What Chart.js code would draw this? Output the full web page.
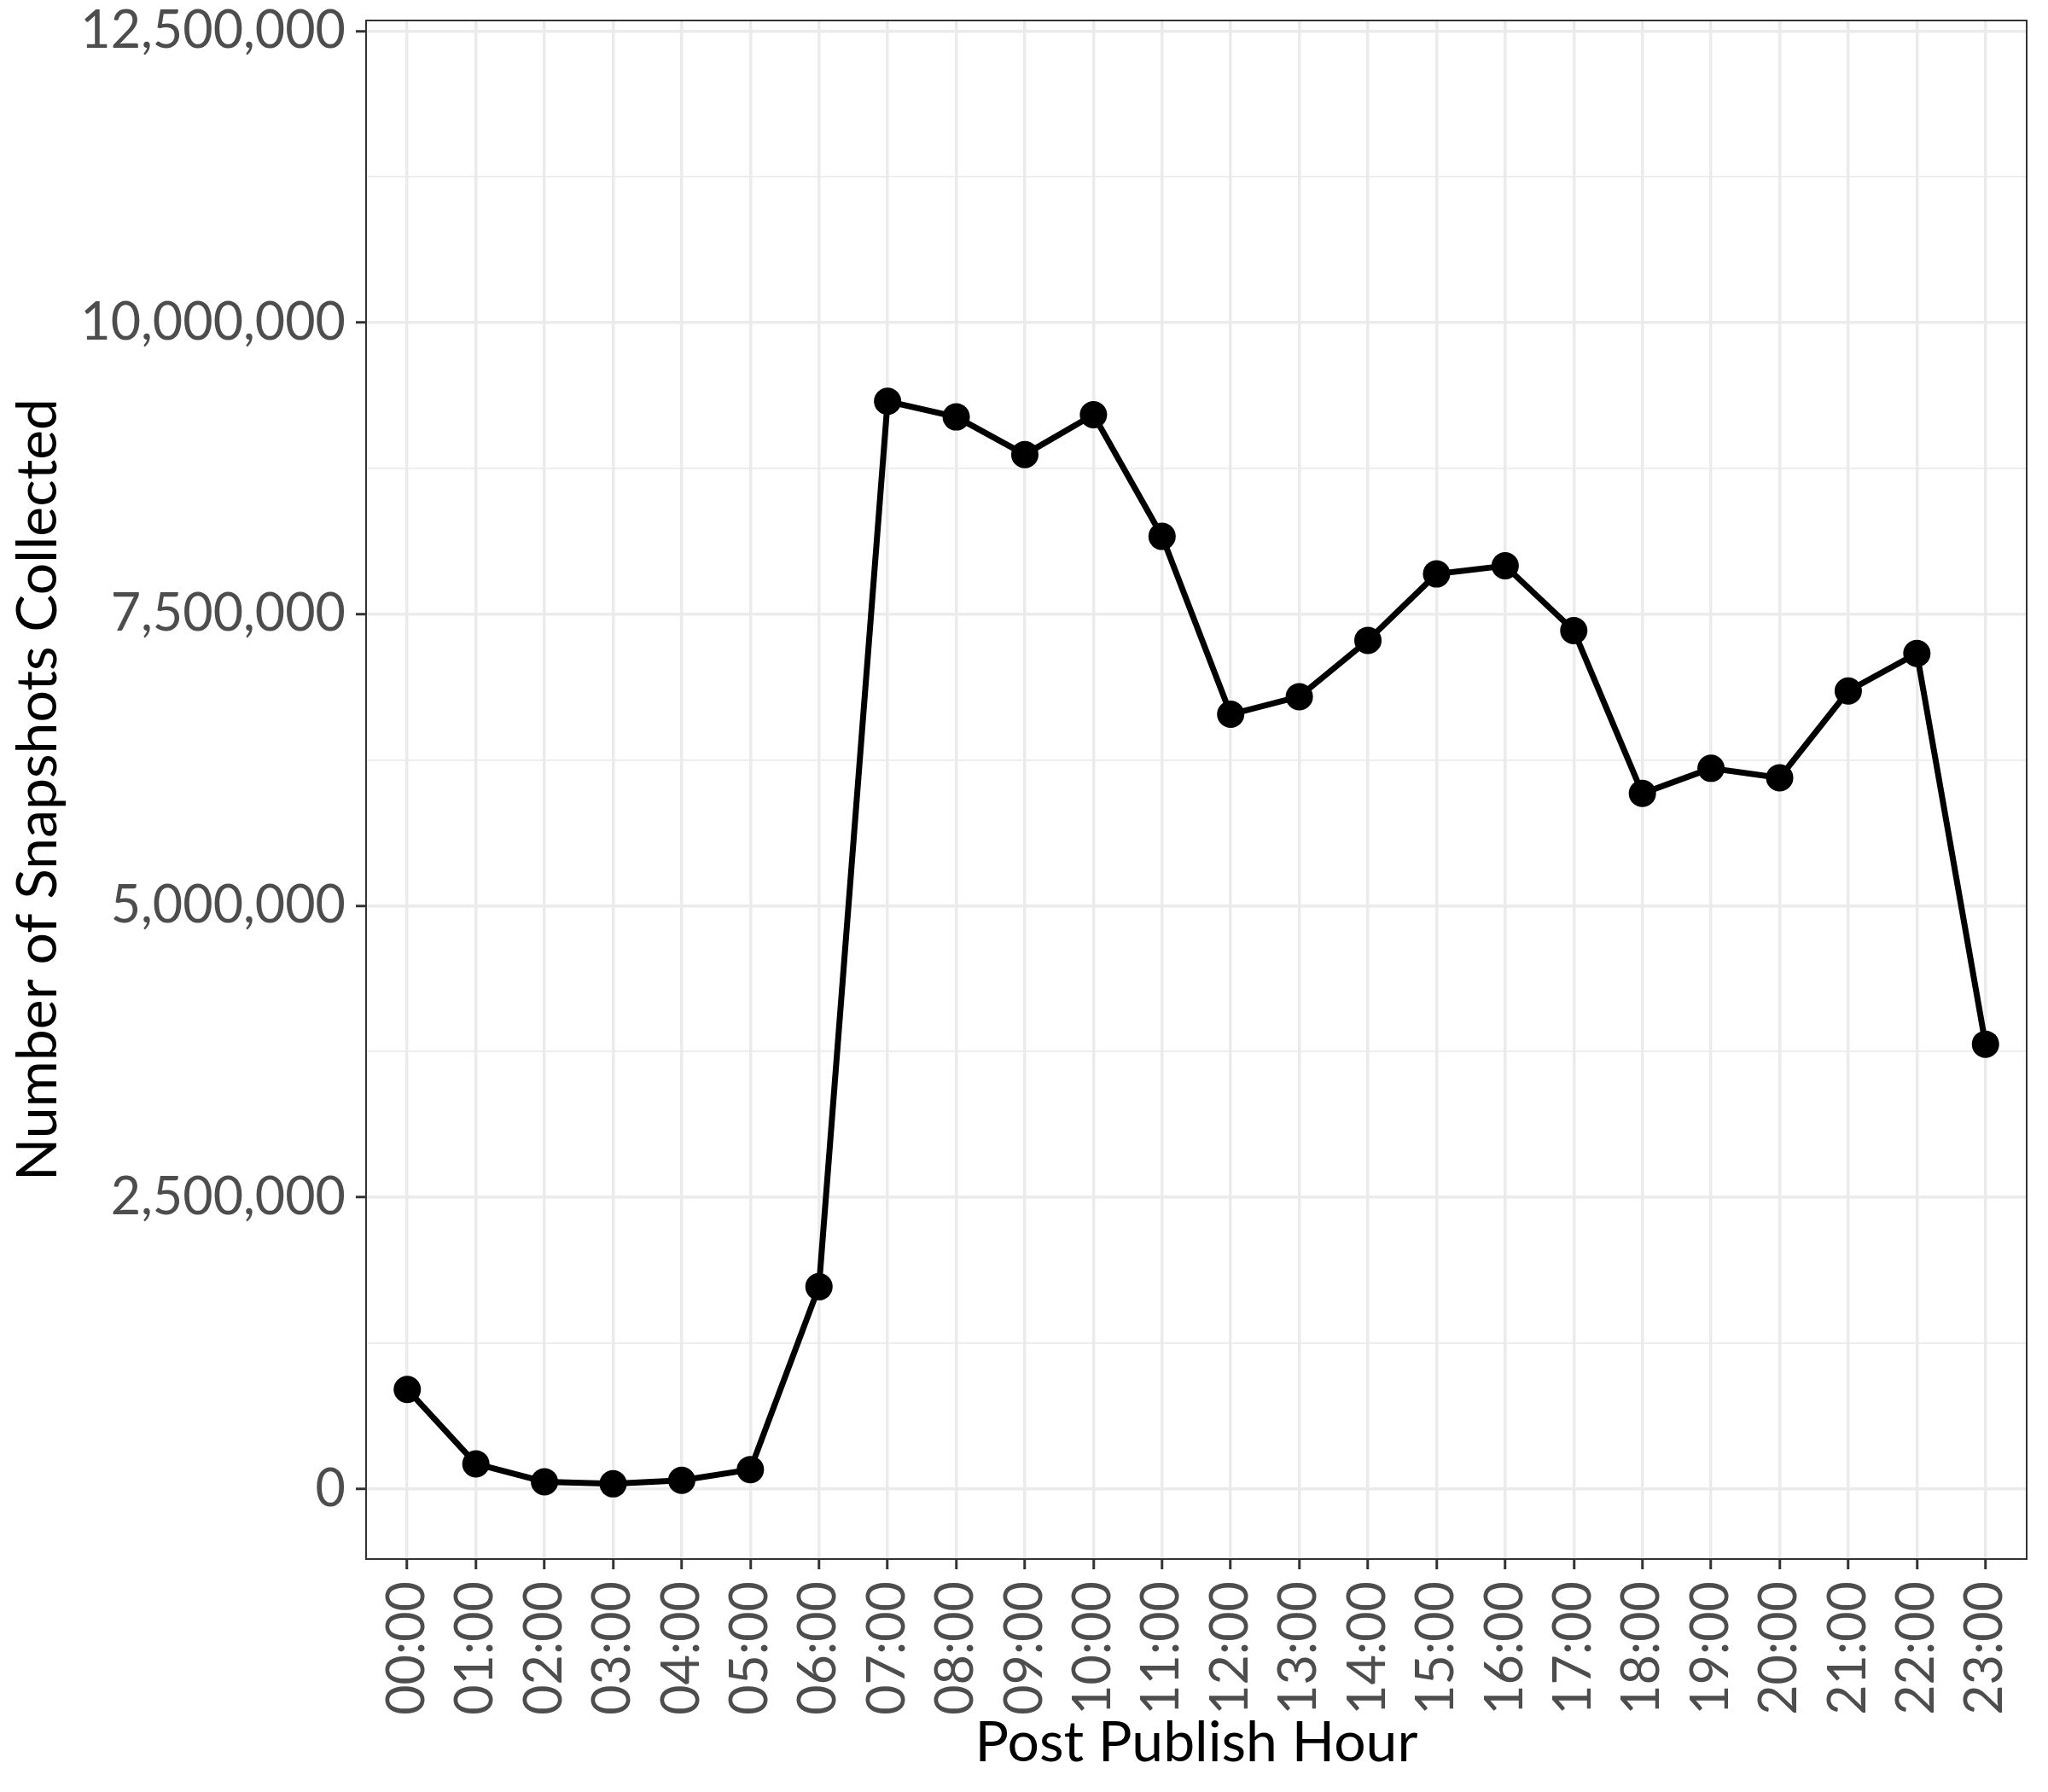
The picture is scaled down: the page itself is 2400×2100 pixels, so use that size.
<!DOCTYPE html>
<html>
<head>
<meta charset="utf-8">
<script src="https://cdn.jsdelivr.net/npm/chart.js@4.4.0/dist/chart.umd.min.js"></script>
<style>
  body { margin: 0; background: #ffffff; }
  #wrap { width: 2400px; height: 2100px; }
</style>
</head>
<body>
<div id="wrap"><canvas id="chart" width="2400" height="2100"></canvas></div>
<script>
// heures de publication
const hours = ['00:00', '01:00', '02:00', '03:00', '04:00', '05:00', '06:00', '07:00',
    '08:00', '09:00', '10:00', '11:00', '12:00', '13:00', '14:00', '15:00',
    '16:00', '17:00', '18:00', '19:00', '20:00', '21:00', '22:00', '23:00'];

// nombre de snapshots
const snapshots = [854000, 216000, 62000, 45000, 75000, 167000, 1735000, 9325000,
    9191000, 8869000, 9210000, 8167000, 6642000, 6793000, 7276000, 7845000,
    7915000, 7359000, 5964000, 6179000, 6098000, 6842000, 7164000, 3814000];

// graduations y : majeures tous les 2,5M, mineures entre
const yMajorTicks = [0, 2500000, 5000000, 7500000, 10000000, 12500000];
const yMinorTicks = [1250000, 3750000, 6250000, 8750000, 11250000];

const gridColor = '#EBEBEB';
const tickColor = '#333333';
const fontFamily = 'Lato, "Noto Sans", sans-serif';

let points = [];
for (let i = 0; i < hours.length; i++) {
    points.push({x: i, y: snapshots[i]});
}

// cadre du panneau
const panelBorder = {
    id: 'panelBorder',
    afterDraw(chart) {
        let a = chart.chartArea;
        let ctx = chart.ctx;
        ctx.save();
        ctx.strokeStyle = tickColor;
        ctx.lineWidth = 2;
        ctx.strokeRect(a.left, a.top, a.right - a.left, a.bottom - a.top);
        ctx.restore();
    }
};

let isMajor = (v) => yMajorTicks.includes(v);

let config = {
    type: 'line',
    data: {
        datasets: [{
            label: 'Snapshots',
            data: points,
            borderColor: '#000000',
            backgroundColor: '#000000',
            borderWidth: 7,
            pointRadius: 16,
            pointHoverRadius: 16,
            pointBorderWidth: 0,
            tension: 0,
            clip: false
        }]
    },
    options: {
        responsive: false,
        animation: false,
        events: [],
        layout: {padding: {left: 1, right: 25, top: 24, bottom: 14}},
        plugins: {legend: {display: false}, tooltip: {enabled: false}},
        scales: {
            x: {
                type: 'linear',
                min: -0.6,
                max: 23.6,
                afterBuildTicks: (axis) => {
                    axis.ticks = hours.map((h, i) => ({value: i}));
                },
                afterFit: (axis) => {
                    axis.height = 259;
                    axis.paddingLeft = 0;
                    axis.paddingRight = 0;
                },
                ticks: {
                    autoSkip: false,
                    minRotation: 90,
                    maxRotation: 90,
                    padding: 14,
                    color: '#4D4D4D',
                    font: {family: fontFamily, size: 61},
                    callback: (v) => hours[v]
                },
                grid: {
                    color: gridColor,
                    lineWidth: 3.5,
                    drawTicks: true,
                    tickLength: 12,
                    tickWidth: 3,
                    tickColor: tickColor
                },
                border: {display: false},
                title: {
                    display: true,
                    text: 'Post Publish Hour',
                    color: '#000000',
                    font: {family: fontFamily, size: 66},
                    padding: {top: 4, bottom: 4}
                }
            },
            y: {
                type: 'linear',
                min: -600000,
                max: 12590000,
                afterBuildTicks: (axis) => {
                    axis.ticks = yMajorTicks.concat(yMinorTicks).sort((a, b) => a - b).map(v => ({value: v}));
                },
                afterFit: (axis) => {
                    axis.width = 428;
                    axis.paddingTop = 0;
                    axis.paddingBottom = 0;
                },
                ticks: {
                    autoSkip: false,
                    padding: 12,
                    color: '#4D4D4D',
                    font: {family: fontFamily, size: 61},
                    callback: (v) => isMajor(v) ? v.toLocaleString('en-US') : ''
                },
                grid: {
                    color: gridColor,
                    lineWidth: (ctx) => isMajor(ctx.tick.value) ? 3.5 : 1.8,
                    tickLength: 12,
                    tickWidth: 3,
                    tickColor: (ctx) => isMajor(ctx.tick.value) ? tickColor : 'rgba(0,0,0,0)'
                },
                border: {display: false},
                title: {
                    display: true,
                    text: 'Number of Snapshots Collected',
                    color: '#000000',
                    font: {family: fontFamily, size: 66},
                    padding: {top: 4, bottom: 4}
                }
            }
        }
    },
    plugins: [panelBorder]
};

let chart = new Chart(document.getElementById('chart'), config);
</script>
</body>
</html>
